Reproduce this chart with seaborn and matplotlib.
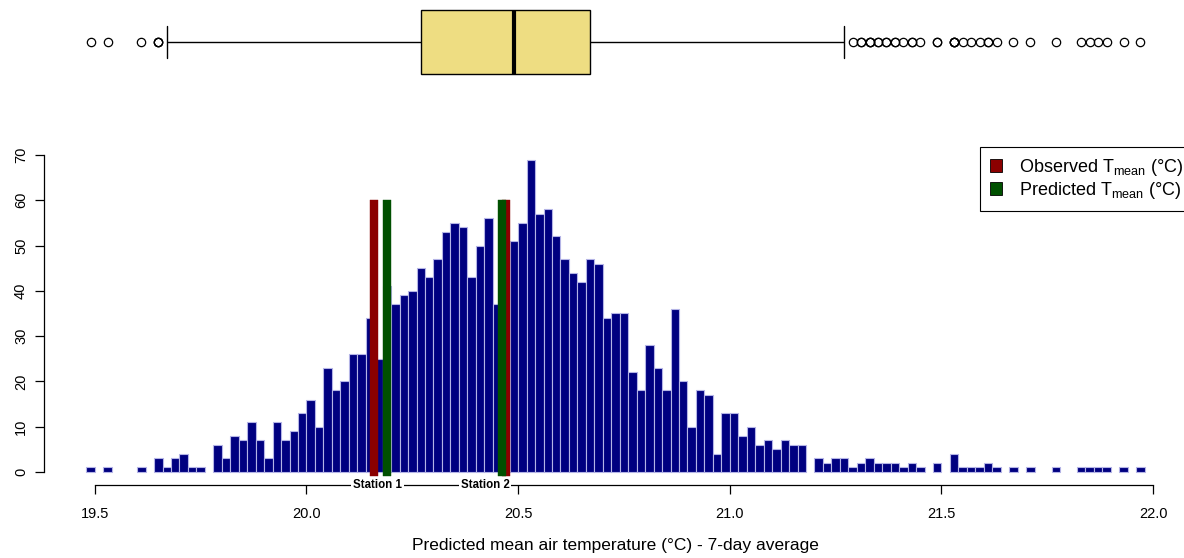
import numpy as np
import pandas as pd
import matplotlib
matplotlib.use("Agg")
import matplotlib.pyplot as plt
import seaborn as sns
from matplotlib.patches import Patch

sns.set_style("ticks")
plt.rcParams["font.family"] = ["Liberation Sans", "DejaVu Sans"]
plt.rcParams["mathtext.fontset"] = "custom"
plt.rcParams["mathtext.rm"] = "Liberation Sans"
plt.rcParams["text.color"] = "black"
plt.rcParams["xtick.color"] = "black"
plt.rcParams["ytick.color"] = "black"

# === DATA ===
# histogram of predicted 7-day mean air temperature, bins of 0.02 °C from 19.48
bin_start = 19.48
bin_width = 0.02
counts = [
    1, 0, 1, 0, 0, 0, 1, 0, 3, 1,          # 19.48 - 19.66
    3, 4, 1, 1, 0, 6, 3, 8, 7, 11,         # 19.68 - 19.86
    7, 3, 11, 7, 9, 13, 16, 10, 23, 18,    # 19.88 - 20.06
    20, 26, 26, 34, 25, 41, 37, 39, 40, 45,  # 20.08 - 20.26
    43, 47, 53, 55, 54, 43, 50, 56, 37, 45,  # 20.28 - 20.46
    51, 55, 69, 57, 58, 52, 47, 44, 42, 47,  # 20.48 - 20.66
    46, 34, 35, 35, 22, 18, 28, 23, 18, 36,  # 20.68 - 20.86
    20, 10, 18, 17, 4, 13, 13, 8, 10, 6,     # 20.88 - 21.06
    7, 5, 7, 6, 6, 0, 3, 2, 3, 3,            # 21.08 - 21.26
    1, 2, 3, 2, 2, 2, 1, 2, 1, 0,            # 21.28 - 21.46
    2, 0, 4, 1, 1, 1, 2, 1, 0, 1,            # 21.48 - 21.66
    0, 1, 0, 0, 1, 0, 0, 1, 1, 1,            # 21.68 - 21.86
    1, 0, 1, 0, 1,                           # 21.88 - 21.96
]

# station markers
obs_temp = [20.159, 20.471]
pred_temp = [20.190, 20.461]
station_names = ["Station 1", "Station 2"]
station_label_x = [20.168, 20.422]

n_bins = len(counts)
centers = np.round(bin_start + bin_width * (np.arange(n_bins) + 0.5), 3)
hist_df = pd.DataFrame({"temp": centers, "n": counts})
# values rebuilt from the bins, for the boxplot on top
values = np.repeat(centers, counts)

# === FIGURE ===
W, H = 1184, 558
fig = plt.figure(figsize=(W / 100, H / 100), dpi=100)
ax = fig.add_axes([44 / W, (H - 484.5) / H, 1143 / W, 337.5 / H])
ax_box = fig.add_axes([44 / W, (H - 81.5) / H, 1143 / W, 79 / H])

# histogram
sns.histplot(data=hist_df, x="temp", weights="n", binwidth=bin_width,
             binrange=(bin_start, bin_start + bin_width * n_bins),
             color="#000080", edgecolor="#b4b4e6", linewidth=0.8, alpha=1,
             ax=ax, zorder=2)
for p in list(ax.patches):
    if p.get_height() == 0:
        p.remove()

# observed / predicted markers
ax.bar(obs_temp, 60.9, bottom=-0.9, width=0.0185, color="#8B0000",
       edgecolor="#8B0000", linewidth=0.3, zorder=3)
ax.bar(pred_temp, 60.9, bottom=-0.9, width=0.0185, color="#005000",
       edgecolor="#005000", linewidth=0.3, zorder=4)

ax.set_xlim(19.38, 22.08)
ax.set_ylim(-2.76, 71.76)
ax.spines[["top", "right"]].set_visible(False)
ax.spines["left"].set_bounds(0, 70)
ax.spines["bottom"].set_bounds(19.5, 22.0)
for s in ["left", "bottom"]:
    ax.spines[s].set_linewidth(0.9)
    ax.spines[s].set_color("black")
ax.set_xticks(np.arange(19.5, 22.01, 0.5))
ax.set_xticklabels([f"{v:.1f}" for v in np.arange(19.5, 22.01, 0.5)])
ax.set_yticks(range(0, 71, 10))
ax.tick_params(axis="both", length=6.5, width=0.9, labelsize=10.5, color="black",
               labelcolor="black")
ax.tick_params(axis="x", pad=10)
ax.tick_params(axis="y", pad=5, labelrotation=90)
for lab in ax.get_yticklabels():
    lab.set_va("center")
ax.set_ylabel("")
ax.set_xlabel("Predicted mean air temperature (°C) - 7-day average",
              fontsize=12.5, labelpad=12, color="black")

for name, xpos in zip(station_names, station_label_x):
    ax.text(xpos, 0, name, transform=ax.get_xaxis_transform(), ha="center",
            va="center", fontsize=8.3, fontweight="bold", zorder=6, clip_on=False,
            bbox=dict(facecolor="white", edgecolor="none", pad=1.2))

handles = [
    Patch(facecolor="#8B0000", edgecolor="black", linewidth=0.6,
          label=r"Observed T$_{\mathrm{mean}}$ (°C)"),
    Patch(facecolor="#005000", edgecolor="black", linewidth=0.6,
          label=r"Predicted T$_{\mathrm{mean}}$ (°C)"),
]
leg = ax.legend(handles=handles, loc="upper right", bbox_to_anchor=(1.0052, 1),
                borderaxespad=0, fancybox=False, framealpha=1, edgecolor="black",
                fontsize=13, handlelength=0.7, handleheight=0.7,
                handletextpad=0.9, borderpad=0.55, labelspacing=0.12)
leg.get_frame().set_linewidth(0.8)

# boxplot on top
sns.boxplot(x=values, ax=ax_box, color="#EEDD82", saturation=1, width=0.8,
            linecolor="black", linewidth=1,
            medianprops=dict(linewidth=3, color="black"),
            flierprops=dict(marker="o", markerfacecolor="none",
                            markeredgecolor="black", markersize=6,
                            markeredgewidth=0.9))
ax_box.set_xlim(19.38, 22.08)
ax_box.set_ylim(0.5, -0.5)
ax_box.axis("off")

fig.savefig("out.png", dpi=100)
